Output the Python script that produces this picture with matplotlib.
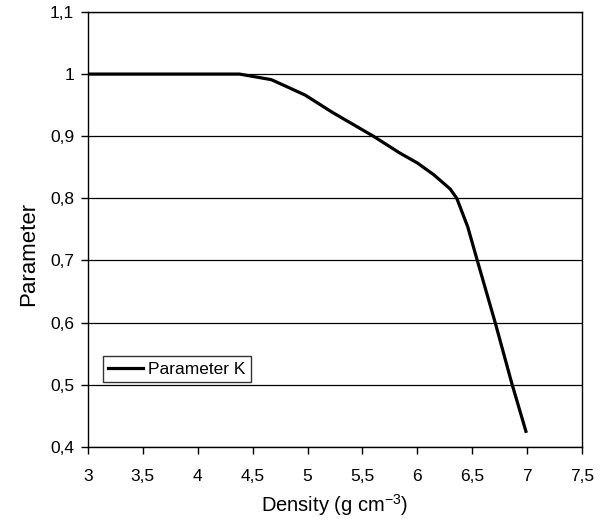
import matplotlib
matplotlib.use('Agg')
from matplotlib import pyplot as plt
from matplotlib.ticker import FuncFormatter

plt.rcParams['font.family'] = ['Liberation Sans', 'DejaVu Sans']
plt.rcParams['mathtext.fontset'] = 'custom'
plt.rcParams['mathtext.rm'] = 'Liberation Sans'

# curve
density = [3.0, 3.5, 4.0, 4.38, 4.67, 4.82, 4.98, 5.23, 5.60, 5.84, 6.0, 6.15, 6.30,
           6.36, 6.46, 6.55, 6.71, 6.86, 6.99]
param_k = [1.0, 1.0, 1.0, 1.0, 0.991, 0.979, 0.966, 0.938, 0.900, 0.873, 0.857, 0.838, 0.815,
           0.80, 0.754, 0.698, 0.60, 0.503, 0.425]

xticks = [3, 3.5, 4, 4.5, 5, 5.5, 6, 6.5, 7, 7.5]
yticks = [0.4, 0.5, 0.6, 0.7, 0.8, 0.9, 1.0, 1.1]


def comma(v, pos):
    s = ('%g' % v)
    return s.replace('.', ',')


fig = plt.figure(figsize=(6.03, 5.19), dpi=100)
ax = fig.add_axes([0.146, 0.139, 0.819, 0.838])

ax.plot(density, param_k, color='black', lw=2.3, label='Parameter K', zorder=3)

ax.set_xlim(3, 7.5)
ax.set_ylim(0.4, 1.1)
ax.set_xticks(xticks)
ax.set_yticks(yticks)
ax.xaxis.set_major_formatter(FuncFormatter(comma))
ax.yaxis.set_major_formatter(FuncFormatter(comma))
ax.tick_params(direction='out', length=5, width=1, labelsize=12.5, colors='black')
ax.tick_params(axis='x', pad=11)
ax.tick_params(axis='y', pad=5)
ax.grid(axis='y', color='black', lw=0.9)
for s in ax.spines.values():
    s.set_color('black')
    s.set_linewidth(1.0)

ax.set_xlabel(r'Density (g cm$^{\mathrm{-3}}$)', fontsize=14.5, labelpad=6)
ax.set_ylabel('Parameter', fontsize=16, labelpad=8)
ax.yaxis.label.set_y(0.444)

leg = ax.legend(loc='lower left', bbox_to_anchor=(0.03, 0.149), fontsize=12.5,
                frameon=True, fancybox=False, edgecolor='black', handlelength=2.0,
                handletextpad=0.3, borderpad=0.3, borderaxespad=0)
leg.get_frame().set_linewidth(1.0)

plt.savefig('out.png', dpi=100)
